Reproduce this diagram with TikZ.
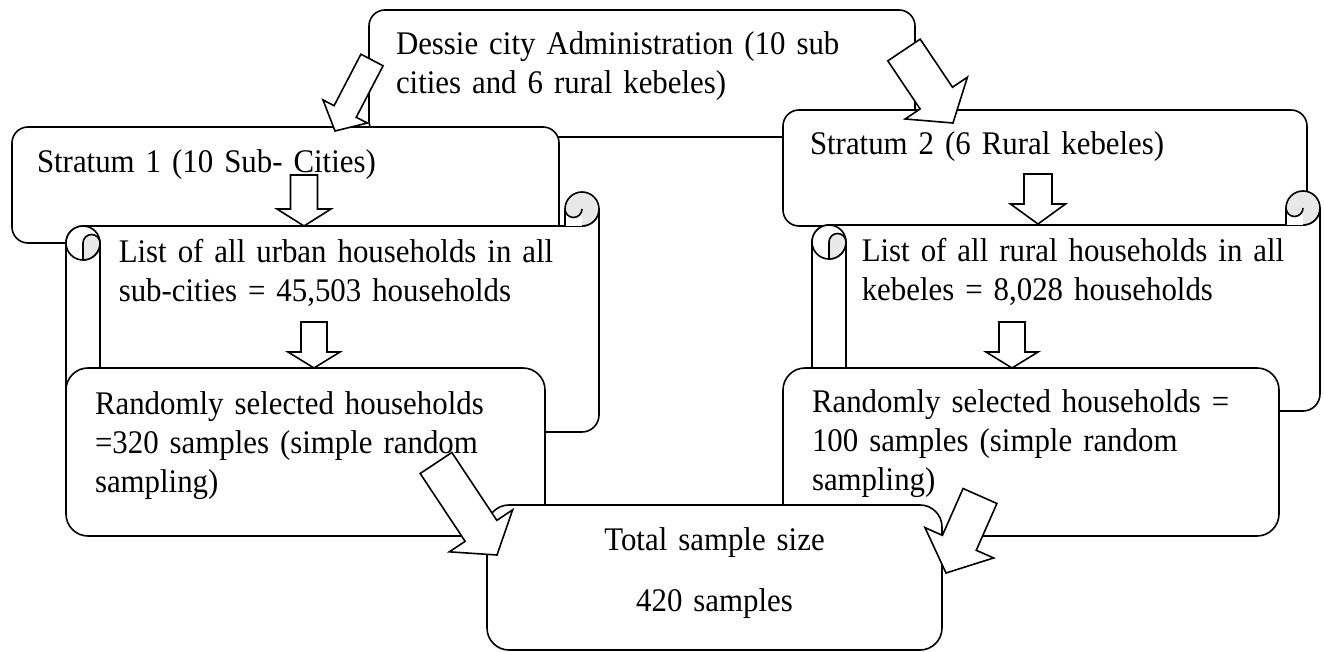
\documentclass[tikz,border=0pt]{standalone}
\usepackage{fontspec}
\setmainfont{Liberation Serif}[FakeStretch=0.935]
\usetikzlibrary{calc}

% block arrow: tail, tip, shaft half width, head half width, head length
\newcommand{\blockarrow}[5]{%
  \coordinate (bm) at ($(#2)!#5!(#1)$);
  \draw[arrowbody] ($(#1)!#3!90:(#2)$) -- ($(bm)!#3!90:(#2)$) -- ($(bm)!#4!90:(#2)$)
    -- (#2) -- ($(bm)!#4!-90:(#2)$) -- ($(bm)!#3!-90:(#2)$) -- ($(#1)!#3!-90:(#2)$) -- cycle;
}

% horizontal scroll: left x, top y of the roll, right x, bottom y of the sheet
\newcommand{\scrollsheet}[4]{%
  \draw[sheet] ({#1},{#2+51}) arc (180:270:17) -- ({#3-17},{#2+34}) arc (90:0:17)
    -- ({#3},{#4-17}) arc (0:90:17) -- ({#1+34},{#4}) -- ({#1+34},{#4+17}) arc (0:180:17) -- cycle;
  \draw ({#1+34},{#2+51}) -- ({#1+34},{#4});
  % roll at the top right
  \draw[roll] ({#3-17},{#2+17}) circle (17);
  \fill[white] ({#3-34},{#2+34}) -- ({#3-34},{#2+17}) arc (180:0:8.5) -- ({#3-17},{#2+34}) -- cycle;
  \draw ({#3-34},{#2+34}) -- ({#3-34},{#2+17}) arc (180:0:8.5);
  % roll at the top left
  \draw[sheet] ({#1+17},{#2+51}) circle (17);
  \draw[roll] ({#1+17},{#2+68}) -- ({#1+17},{#2+51}) arc (180:360:8.5) arc (0:90:17) -- cycle;
}

\begin{document}
\begin{tikzpicture}[x=0.5pt,y=-0.5pt,line width=0.8pt,line join=round,
    font=\fontsize{16.5pt}{19.5pt}\selectfont,
    box/.style={draw,fill=white,rounded corners=8pt,anchor=north west,
      align=left,inner xsep=13.5pt,inner ysep=0pt,outer sep=0pt},
    bigbox/.style={box,rounded corners=11pt,inner xsep=14.5pt},
    sheet/.style={draw,fill=white},
    roll/.style={draw,fill=gray!18},
    listtext/.style={anchor=base west,align=left,inner sep=0pt,text width=240pt},
    arrowbody/.style={draw,fill=white,line join=miter}]

\fill[white] (0,0) rectangle (1324,652);
\useasboundingbox (0,0) rectangle (1324,652);

% city
\node[box,text width=246pt,text height=22.5pt,text depth=41pt] (admin) at (369,10)
  {Dessie city Administration (10 sub\\cities and 6 rural kebeles)};

% strata
\node[box,inner xsep=12.5pt,text width=248.5pt,text height=23pt,text depth=35pt] (stratum1) at (12,127)
  {Stratum 1 (10 Sub- Cities)};
\node[box,text width=235pt,text height=22.5pt,text depth=35.5pt] (stratum2) at (783,110)
  {Stratum 2 (6 Rural kebeles)};

\coordinate (t1) at (372,60);  \coordinate (h1) at (335,131);
\coordinate (t2) at (904,50);  \coordinate (h2) at (953,123);
\blockarrow{t1}{h1}{6.25pt}{12.5pt}{11pt}
\blockarrow{t2}{h2}{9.75pt}{18.75pt}{15pt}

% household lists
\scrollsheet{66}{192}{599}{432}
\scrollsheet{812}{191}{1320}{411}
\node[listtext] (urbanlist) at (118,263) {List of all urban households in all\\sub-cities = 45,503 households};
\node[listtext] (rurallist) at (861,262) {List of all rural households in all\\kebeles = 8,028 households};

\coordinate (t3) at (304,175);  \coordinate (h3) at (304,226);
\coordinate (t4) at (1038,174); \coordinate (h4) at (1038,224);
\blockarrow{t3}{h3}{6.75pt}{13.5pt}{8.5pt}
\blockarrow{t4}{h4}{7pt}{13.75pt}{10pt}

% samples
\node[bigbox,text width=210.5pt,text height=23.5pt,text depth=60.5pt] (random1) at (66,368)
  {Randomly selected households\\=320 samples (simple random\\sampling)};
\node[bigbox,text width=219pt,text height=22.5pt,text depth=61.5pt] (random2) at (783,368)
  {Randomly selected households =\\100 samples (simple random\\sampling)};

\coordinate (t5) at (314,322);  \coordinate (h5) at (314,368);
\coordinate (t6) at (1012,322); \coordinate (h6) at (1012,368);
\blockarrow{t5}{h5}{6.5pt}{13pt}{8pt}
\blockarrow{t6}{h6}{6.5pt}{13pt}{8pt}

% total
\node[bigbox,align=center,inner xsep=10pt,text width=207.5pt,text height=22.5pt,text depth=50pt] (total) at (487,505)
  {Total sample size\\[11.5pt]420 samples};

\coordinate (t7) at (436,463); \coordinate (h7) at (497,555);
\coordinate (t8) at (980,496); \coordinate (h8) at (946,573);
\blockarrow{t7}{h7}{9.5pt}{19pt}{14.5pt}
\blockarrow{t8}{h8}{9.25pt}{18.75pt}{16.5pt}
\end{tikzpicture}
\end{document}
